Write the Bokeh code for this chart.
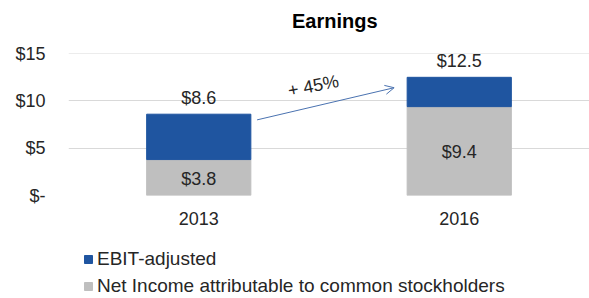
from bokeh.plotting import figure
from bokeh.layouts import column
from bokeh.models import ColumnDataSource, Legend, LegendItem, Arrow, OpenHead, FixedTicker, Label
from bokeh.embed import file_html
from bokeh.resources import INLINE
from bokeh.core.properties import value

# ---- data ----
chart_title = "Earnings"
years = ["2013", "2016"]
net_income = [3.8, 9.4]
ebit_adjusted_total = [8.6, 12.5]
growth_label = "+ 45%"
y_ticks = [0, 5, 10, 15]
y_tick_labels = ["$-", "$5", "$10", "$15"]
series_names = ["EBIT-adjusted", "Net Income attributable to common stockholders"]

BLUE = "#1F55A0"
GRAY = "#BFBFBF"
TEXT = "#262626"
FONT = "Liberation Sans"

xs = list(range(len(years)))

src = ColumnDataSource(dict(
    x=xs,
    net=net_income,
    total=ebit_adjusted_total,
    net_mid=[n / 2 for n in net_income],
    net_lbl=["$%.1f" % v for v in net_income],
    tot_lbl=["$%.1f" % v for v in ebit_adjusted_total],
))


def strip(height):
    f = figure(width=589, height=height, x_range=(0, 1), y_range=(0, 1),
               output_backend="svg", toolbar_location=None,
               x_axis_location=None, y_axis_location=None,
               min_border_left=0, min_border_right=0, min_border_top=0, min_border_bottom=0)
    f.outline_line_color = None
    f.xgrid.grid_line_color = None
    f.ygrid.grid_line_color = None
    return f


# title strip
head = strip(40)
head.text(x=[0.511], y=[0.5], text=[chart_title], text_align="center",
          text_baseline="middle", text_font=value(FONT), text_font_size="20px",
          text_font_style="bold", text_color="#000000")

p = figure(width=589, height=195, x_range=(-0.5, 1.5), y_range=(0, 15.02),
           output_backend="svg", toolbar_location=None,
           min_border_left=68, min_border_right=0, min_border_top=13,
           min_border_bottom=40)
p.outline_line_color = None
p.background_fill_color = "white"
p.border_fill_color = "white"

r_net = p.vbar(x="x", bottom=0, top="net", width=0.4, color=GRAY, source=src)
r_ebit = p.vbar(x="x", bottom="net", top="total", width=0.4, color=BLUE, source=src)

p.text(x="x", y="net_mid", text="net_lbl", source=src, text_align="center",
       text_baseline="middle", y_offset=1, text_font=value(FONT), text_font_size="18px",
       text_color=TEXT)
p.text(x="x", y="total", text="tot_lbl", source=src, text_align="center",
       text_baseline="middle", y_offset=-16, text_font=value(FONT),
       text_font_size="18px", text_color=TEXT)

# growth arrow
p.add_layout(Arrow(x_start=0.224, y_start=8.0, x_end=0.75, y_end=11.4,
                   line_color="#4A72B0", line_width=1,
                   end=OpenHead(size=9, line_color="#4A72B0", line_width=1)))
p.add_layout(Label(x=0.44, y=11.6, text=growth_label, angle=11, angle_units="deg",
                   text_align="center", text_baseline="middle", text_font=FONT,
                   text_font_size="18px", text_color=TEXT))

# axes
p.yaxis.ticker = FixedTicker(ticks=y_ticks)
p.yaxis.major_label_overrides = {t: l for t, l in zip(y_ticks, y_tick_labels)}
p.yaxis.axis_line_color = None
p.yaxis.major_tick_line_color = None
p.yaxis.minor_tick_line_color = None
p.yaxis.major_label_standoff = 17
p.yaxis.major_label_text_font = FONT
p.yaxis.major_label_text_font_size = "18px"
p.yaxis.major_label_text_color = TEXT

p.xaxis.ticker = FixedTicker(ticks=xs)
p.xaxis.major_label_overrides = {i: y for i, y in zip(xs, years)}
p.xaxis.axis_line_color = None
p.xaxis.major_tick_line_color = None
p.xaxis.minor_tick_line_color = None
p.xaxis.major_label_standoff = 10
p.xaxis.major_label_text_font = FONT
p.xaxis.major_label_text_font_size = "18px"
p.xaxis.major_label_text_color = TEXT

p.xgrid.grid_line_color = None
p.ygrid.grid_line_color = "#D9D9D9"
p.ygrid.grid_line_width = 1

# legend strip below the chart
leg = strip(63)
lg_ebit = leg.rect(x=[-5], y=[-5], width=0.1, height=0.1, color=BLUE)
lg_net = leg.rect(x=[-5], y=[-5], width=0.1, height=0.1, color=GRAY)
legend = Legend(items=[LegendItem(label=series_names[0], renderers=[lg_ebit]),
                       LegendItem(label=series_names[1], renderers=[lg_net])],
                orientation="vertical", location=(15, 1),
                label_text_font=FONT, label_text_font_size="19px",
                label_text_color=TEXT, glyph_width=10, glyph_height=10,
                label_standoff=4, spacing=5, padding=0, margin=0,
                border_line_color=None, background_fill_alpha=0,
                label_height=19)
leg.add_layout(legend, "center")

layout = column(head, p, leg, spacing=0)
open("out.html", "w").write(file_html(layout, INLINE))
